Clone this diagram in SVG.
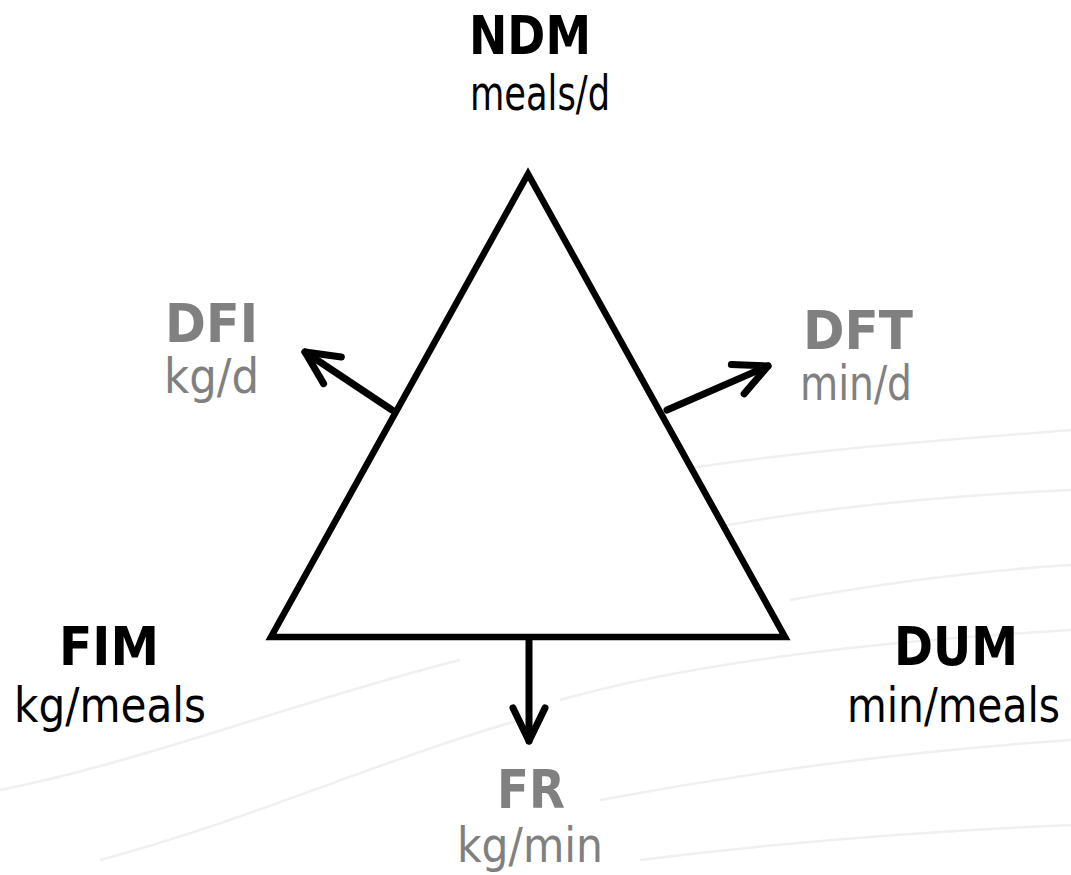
<svg xmlns="http://www.w3.org/2000/svg" width="1071" height="875" viewBox="0 0 1071 875">
  <style>
    .b { font-family: "DejaVu Sans", Verdana, sans-serif; font-weight: bold; font-size: 54px; }
    .r { font-family: "DejaVu Sans", Verdana, sans-serif; font-size: 48px; }
    .k { fill: #000; }
    .g { fill: #808080; }
    .bg { fill: none; stroke: #f1f0f0; stroke-width: 2.5; }
    .arr { fill: none; stroke: #000; stroke-width: 7; stroke-linecap: round; marker-end: url(#chev); }
  </style>
  <defs>
    <marker id="chev" markerUnits="userSpaceOnUse" markerWidth="80" markerHeight="80" refX="0" refY="0" orient="auto" overflow="visible">
      <path d="M -33,-16 L 0,0 L -33,16" fill="none" stroke="#000" stroke-width="7" stroke-linecap="round" stroke-linejoin="round"/>
    </marker>
  </defs>
  <rect width="1071" height="875" fill="#fff"/>
  <g id="background">
    <path class="bg" d="M 620 480 C 780 450 950 440 1071 430"/>
    <path class="bg" d="M 700 530 C 830 505 960 495 1071 490"/>
    <path class="bg" d="M 790 600 C 900 580 990 570 1071 565"/>
    <path class="bg" d="M 0 790 C 150 760 300 700 460 660"/>
    <path class="bg" d="M 100 860 C 250 820 380 760 520 720"/>
    <path class="bg" d="M 560 700 C 700 660 900 640 1071 630"/>
    <path class="bg" d="M 600 800 C 760 770 920 750 1071 740"/>
    <path class="bg" d="M 640 860 C 800 840 950 830 1071 825"/>
  </g>
  <g id="triangle">
    <polygon points="528,174 271,637 785,637" fill="#fff" stroke="#000" stroke-width="6.5" stroke-linejoin="miter"/>
  </g>
  <g id="connectors">
    <line class="arr" x1="392" y1="410" x2="305" y2="352"/>
    <line class="arr" x1="667" y1="410" x2="768" y2="366"/>
    <line class="arr" x1="529" y1="641" x2="529" y2="741"/>
  </g>
  <g id="node-ndm">
    <text class="b k" x="469" y="54" textLength="122" lengthAdjust="spacingAndGlyphs">NDM</text>
    <text class="r k" x="470" y="110" textLength="140" lengthAdjust="spacingAndGlyphs">meals/d</text>
  </g>
  <g id="node-dfi">
    <text class="b g" x="165" y="342" textLength="93" lengthAdjust="spacingAndGlyphs">DFI</text>
    <text class="r g" x="164" y="393" textLength="95" lengthAdjust="spacingAndGlyphs">kg/d</text>
  </g>
  <g id="node-dft">
    <text class="b g" x="803" y="349" textLength="110" lengthAdjust="spacingAndGlyphs">DFT</text>
    <text class="r g" x="800" y="400" textLength="112" lengthAdjust="spacingAndGlyphs">min/d</text>
  </g>
  <g id="node-fim">
    <text class="b k" x="59" y="665" textLength="100" lengthAdjust="spacingAndGlyphs">FIM</text>
    <text class="r k" x="14" y="722" textLength="192" lengthAdjust="spacingAndGlyphs">kg/meals</text>
  </g>
  <g id="node-dum">
    <text class="b k" x="894" y="665" textLength="124" lengthAdjust="spacingAndGlyphs">DUM</text>
    <text class="r k" x="1060" y="722" text-anchor="end" textLength="213" lengthAdjust="spacingAndGlyphs">min/meals</text>
  </g>
  <g id="node-fr">
    <text class="b g" x="497" y="808" textLength="68" lengthAdjust="spacingAndGlyphs">FR</text>
    <text class="r g" x="457" y="862" textLength="146" lengthAdjust="spacingAndGlyphs">kg/min</text>
  </g>
</svg>
